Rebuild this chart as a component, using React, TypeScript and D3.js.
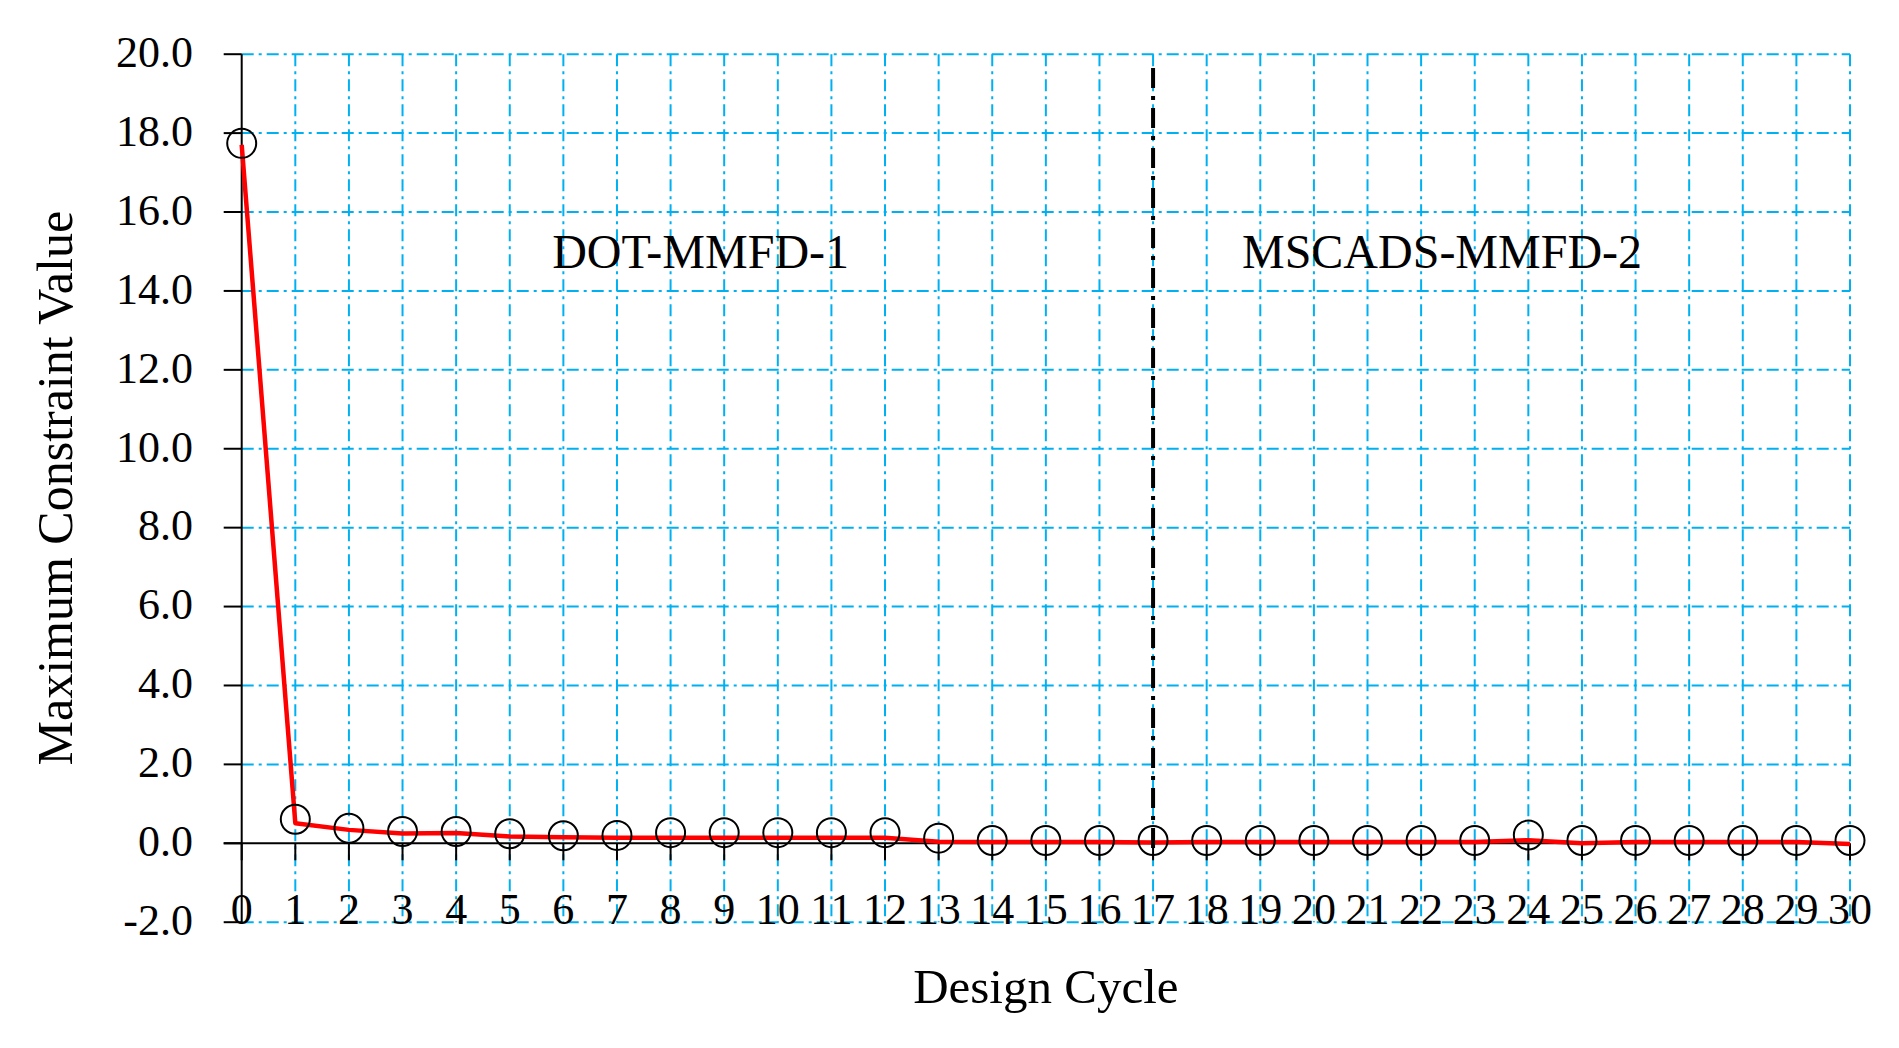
import React from "react";
import * as d3 from "d3";

const cycles: number[] = d3.range(0, 31);
const lineValues: number[] = [17.7, 0.51, 0.34, 0.25, 0.26, 0.17, 0.15, 0.14, 0.14, 0.14, 0.14, 0.14, 0.14, 0.04, 0.03, 0.03, 0.03, 0.02, 0.03, 0.03, 0.03, 0.03, 0.03, 0.03, 0.08, 0.0, 0.03, 0.03, 0.03, 0.03, -0.02];
const markerValues: number[] = [17.74, 0.61, 0.38, 0.3, 0.3, 0.24, 0.19, 0.2, 0.27, 0.27, 0.27, 0.27, 0.27, 0.13, 0.07, 0.07, 0.07, 0.07, 0.07, 0.07, 0.07, 0.07, 0.07, 0.07, 0.21, 0.07, 0.07, 0.07, 0.07, 0.07, 0.07];
const yTicks: number[] = [-2, 0, 2, 4, 6, 8, 10, 12, 14, 16, 18, 20];
const annotations = [
  { label: "DOT-MMFD-1", x: 8.56, y: 14.59 },
  { label: "MSCADS-MMFD-2", x: 22.39, y: 14.59 },
];
const dividerCycle = 17;
const dividerRange: [number, number] = [19.65, -0.15];
const xTitle = "Design Cycle";
const yTitle = "Maximum Constraint Value";

const W = 1899;
const H = 1048;
const FONT = "'Liberation Serif', 'Times New Roman', serif";

export default function App() {
  const x = d3.scaleLinear().domain([0, 30]).range([241.7, 1850]);
  const y = d3.scaleLinear().domain([-2, 20]).range([922.2, 54.2]);
  const line = d3
    .line<number>()
    .x((_, i) => x(cycles[i]))
    .y((d) => y(d));
  const grid = "#00B0F0";
  const gridDash = "12,5,3,5";

  return (
    <div style={{ position: "fixed", left: 0, top: 0 }}>
      <svg width={W} height={H} style={{ display: "block", background: "#fff" }}>
        {yTicks.filter((t) => t !== 0).map((t) => (
          <line key={"hg" + t} x1={x(0)} x2={x(30)} y1={y(t)} y2={y(t)} stroke={grid} strokeWidth={2} strokeDasharray={gridDash} />
        ))}
        {cycles.filter((c) => c !== 0).map((c) => (
          <line key={"vg" + c} x1={x(c)} x2={x(c)} y1={y(20)} y2={y(-2)} stroke={grid} strokeWidth={2} strokeDasharray={gridDash} />
        ))}
        <line x1={x(0)} x2={x(0)} y1={y(20)} y2={y(-2)} stroke="#000" strokeWidth={2} />
        {yTicks.map((t) => (
          <g key={"yt" + t}>
            <line x1={x(0) - 18} x2={x(0)} y1={y(t)} y2={y(t)} stroke="#000" strokeWidth={2} />
            <text x={193} y={y(t)} dy="0.29em" textAnchor="end" fontFamily={FONT} fontSize={44} fill="#000">
              {t.toFixed(1)}
            </text>
          </g>
        ))}
        <line x1={x(0) - 18} x2={x(30)} y1={y(0)} y2={y(0)} stroke="#000" strokeWidth={2} />
        {cycles.map((c) => (
          <g key={"xt" + c}>
            <line x1={x(c)} x2={x(c)} y1={y(0)} y2={y(0) + 17} stroke="#000" strokeWidth={2} />
            <text x={x(c)} y={y(-2) + 2} textAnchor="middle" fontFamily={FONT} fontSize={44} fill="#000">
              {c}
            </text>
          </g>
        ))}
        <path d={line(lineValues) || ""} fill="none" stroke="#FF0000" strokeWidth={4.5} strokeLinejoin="round" />
        {markerValues.map((v, i) => (
          <circle key={"m" + i} cx={x(cycles[i])} cy={y(v)} r={14.5} fill="none" stroke="#000" strokeWidth={2} />
        ))}
        <line x1={x(dividerCycle)} x2={x(dividerCycle)} y1={y(dividerRange[0])} y2={y(dividerRange[1])} stroke="#000" strokeWidth={4} strokeDasharray="20,8,4,8" />
        {annotations.map((a) => (
          <text key={a.label} x={x(a.x)} y={y(a.y)} textAnchor="middle" fontFamily={FONT} fontSize={48} fill="#000">
            {a.label}
          </text>
        ))}
        <text x={(x(0) + x(30)) / 2} y={1003} textAnchor="middle" fontFamily={FONT} fontSize={49} fill="#000">
          {xTitle}
        </text>
        <text transform={`translate(72, ${(y(20) + y(-2)) / 2}) rotate(-90)`} textAnchor="middle" fontFamily={FONT} fontSize={50} fill="#000">
          {yTitle}
        </text>
      </svg>
    </div>
  );
}
